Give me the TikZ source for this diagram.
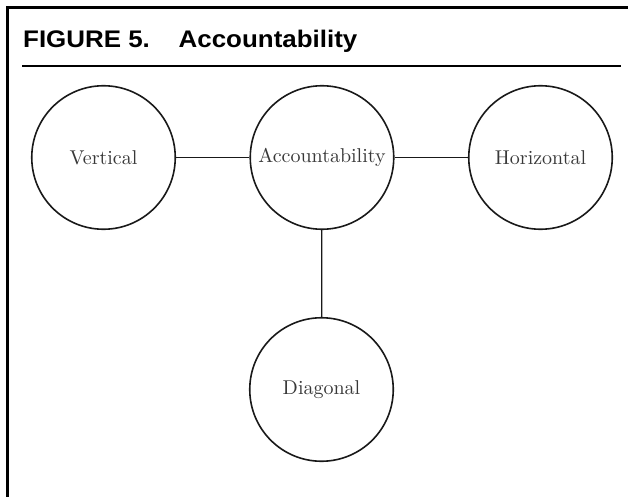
\documentclass[tikz,border=0pt]{standalone}
\usepackage{fontspec}
\newfontfamily\titlefont{Liberation Sans}
\newfontfamily\circfont{lmroman10-regular}[Extension=.otf]
\newcommand{\ttlwide}[1]{\scalebox{1.08}[1]{#1}}
\begin{document}
\begin{tikzpicture}[x=1pt,y=-1pt,
  circ/.style={circle,draw=black!90,line width=1.6pt,minimum size=143.5pt,inner sep=0pt,
    text=black!78,font=\circfont\fontsize{20}{24}\selectfont},
  link/.style={draw=black!90,line width=1.2pt},
  titletext/.style={anchor=base west,inner sep=0pt,font=\titlefont\bfseries\fontsize{24}{28}\selectfont},
  frame/.style={line width=3pt,line cap=butt}]
\useasboundingbox (0,0) rectangle (628,497);
\draw[frame] (7.5,497) -- (7.5,7.5) -- (628,7.5);
\draw[line width=2pt] (22,66) -- (621,66);
\node[titletext] (title1) at (23,48) {\ttlwide{FIGURE 5.}};
\node[titletext] (title2) at (178.5,48) {\ttlwide{Accountability}};
\node[circ] (V) at (103.5,157.5) {Vertical};
\node[circ] (A) at (322,157.5) {Accountability};
\node[circ] (H) at (540.5,157.5) {Horizontal};
\node[circ] (D) at (321.5,389.5) {Diagonal};
\draw[link] (V) -- (A);
\draw[link] (A) -- (H);
\draw[link] (A) -- (D);
\end{tikzpicture}
\end{document}
